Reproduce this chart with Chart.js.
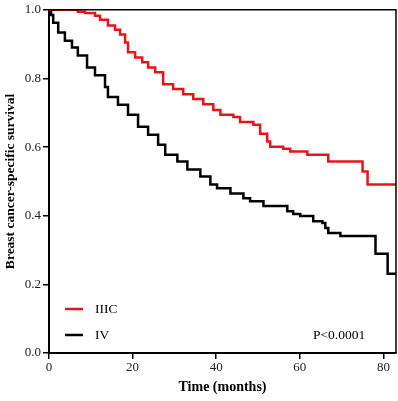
<!DOCTYPE html>
<html lang="en">
<head>
    <meta charset="UTF-8">
    <title>Breast cancer-specific survival</title>
    <script src="https://cdn.jsdelivr.net/npm/chart.js"></script>
    <style>
        html, body {
            margin: 0;
            padding: 0;
            background: #fff;
        }
        .chart-box {
            width: 398px;
            height: 401px;
        }
    </style>
</head>
<body>
    <div class="chart-box">
        <canvas id="kmChart"></canvas>
    </div>

    <script>
        // Kaplan-Meier points (month, survival after the drop)
        const iiicMonths = [0, 6.2, 6.9, 8.6, 11.0, 12.2, 14.1, 15.8, 17.0, 18.2, 18.9, 20.6, 22.3, 23.7, 25.4, 27.3,
            29.7, 32.1, 34.5, 36.9, 39.3, 41.0, 44.1, 45.7, 48.9, 50.5, 52.2, 52.9, 56.0, 57.7, 61.8, 66.8, 75.0, 76.2, 83];
        const iiicSurv = [1.0, 1.0, 0.994, 0.991, 0.983, 0.971, 0.954, 0.942, 0.928, 0.905, 0.876, 0.861, 0.847, 0.832, 0.818, 0.783,
            0.769, 0.754, 0.740, 0.725, 0.708, 0.694, 0.688, 0.673, 0.665, 0.639, 0.616, 0.601, 0.595, 0.587, 0.578, 0.558, 0.529, 0.491, 0.491];

        const ivMonths = [0, 0.5, 1.0, 2.2, 3.8, 5.5, 6.9, 9.1, 11.0, 13.4, 14.1, 16.5, 18.9, 21.3, 23.7, 26.1, 27.8,
            30.7, 33.1, 36.2, 38.6, 40.2, 43.4, 46.5, 48.1, 51.3, 57.0, 58.4, 60.1, 63.2, 65.4, 66.1, 66.8, 69.7, 78.1, 81.0, 83];
        const ivSurv = [1.0, 0.985, 0.962, 0.934, 0.910, 0.890, 0.867, 0.832, 0.809, 0.775, 0.746, 0.723, 0.694, 0.659, 0.636, 0.607, 0.578,
            0.558, 0.535, 0.514, 0.491, 0.480, 0.465, 0.451, 0.442, 0.428, 0.413, 0.405, 0.399, 0.384, 0.379, 0.364, 0.350, 0.341, 0.289, 0.231, 0.231];

        const xTicks = [0, 20, 40, 60, 80];
        const seriesNames = ['IIIC', 'IV'];
        const pValueText = 'P<0.0001';

        const serif = '"Liberation Serif", "Times New Roman", serif';

        function toPoints(xs, ys) {
            return xs.map((x, i) => ({ x: x, y: ys[i] }));
        }

        // top/right frame, legend and p-value drawn inside the plot area
        const extras = {
            id: 'extras',
            afterDraw(chart) {
                const ctx = chart.ctx;
                const a = chart.chartArea;
                ctx.save();
                ctx.strokeStyle = '#000';
                ctx.lineWidth = 1.5;
                ctx.beginPath();
                ctx.moveTo(a.left, a.top);
                ctx.lineTo(a.right, a.top);
                ctx.lineTo(a.right, a.bottom);
                ctx.stroke();

                const rows = [
                    { name: seriesNames[0], color: '#e8141b', y: a.bottom - 44 },
                    { name: seriesNames[1], color: '#000000', y: a.bottom - 18 }
                ];
                ctx.font = '13.5px ' + serif;
                ctx.textBaseline = 'middle';
                rows.forEach(r => {
                    ctx.strokeStyle = r.color;
                    ctx.lineWidth = 2.5;
                    ctx.beginPath();
                    ctx.moveTo(a.left + 16, r.y);
                    ctx.lineTo(a.left + 34, r.y);
                    ctx.stroke();
                    ctx.fillStyle = '#000';
                    ctx.textAlign = 'left';
                    ctx.fillText(r.name, a.left + 46, r.y);
                });
                ctx.textAlign = 'left';
                ctx.fillText(pValueText, a.left + 264, a.bottom - 18);
                ctx.restore();
            }
        };

        new Chart(document.getElementById('kmChart'), {
            type: 'line',
            data: {
                datasets: [
                    {
                        label: seriesNames[0],
                        data: toPoints(iiicMonths, iiicSurv),
                        borderColor: '#e8141b',
                        borderWidth: 2.5,
                        pointRadius: 0,
                        stepped: 'before',
                        fill: false
                    },
                    {
                        label: seriesNames[1],
                        data: toPoints(ivMonths, ivSurv),
                        borderColor: '#000000',
                        borderWidth: 2.5,
                        pointRadius: 0,
                        stepped: 'before',
                        fill: false
                    }
                ]
            },
            options: {
                responsive: true,
                maintainAspectRatio: false,
                animation: false,
                layout: {
                    padding: { top: 7, right: 2, left: 0, bottom: 0 }
                },
                plugins: {
                    legend: { display: false },
                    tooltip: { enabled: false }
                },
                scales: {
                    x: {
                        type: 'linear',
                        min: 0,
                        max: 83,
                        afterBuildTicks(scale) {
                            scale.ticks = xTicks.map(v => ({ value: v }));
                        },
                        afterFit(scale) {
                            scale.height = 48;
                        },
                        grid: {
                            drawOnChartArea: false,
                            drawTicks: true,
                            tickLength: 6,
                            color: '#000',
                            lineWidth: 1.5
                        },
                        border: { display: true, color: '#000', width: 2 },
                        ticks: {
                            color: '#222',
                            font: { family: serif, size: 13 },
                            padding: 1,
                            maxRotation: 0
                        },
                        title: {
                            display: true,
                            text: 'Time (months)',
                            color: '#000',
                            font: { family: serif, size: 14, weight: 'bold' },
                            padding: { top: 0, bottom: 5 }
                        }
                    },
                    y: {
                        min: 0,
                        max: 1,
                        afterFit(scale) {
                            scale.width = 49;
                        },
                        grid: {
                            drawOnChartArea: false,
                            drawTicks: true,
                            tickLength: 6,
                            color: '#000',
                            lineWidth: 1.5
                        },
                        border: { display: true, color: '#000', width: 2 },
                        ticks: {
                            stepSize: 0.2,
                            color: '#222',
                            font: { family: serif, size: 13 },
                            padding: 2,
                            callback: v => v.toFixed(1)
                        },
                        title: {
                            display: true,
                            text: 'Breast cancer-specific survival',
                            color: '#000',
                            font: { family: serif, size: 13.5, weight: 'bold' },
                            padding: { top: 2, bottom: 0 }
                        }
                    }
                }
            },
            plugins: [extras]
        });
    </script>
</body>
</html>
